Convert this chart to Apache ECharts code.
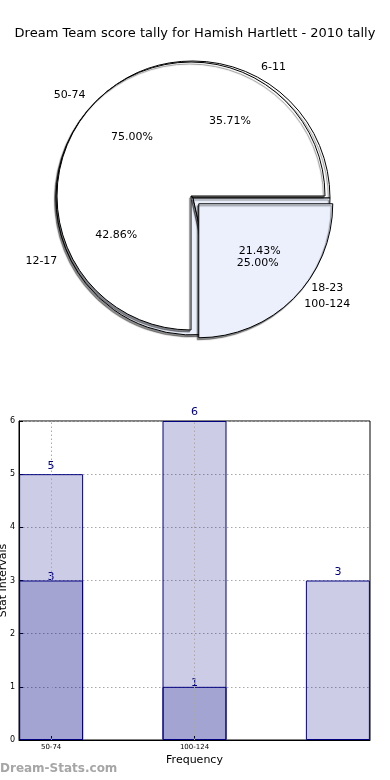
<!DOCTYPE html>
<html><head><meta charset="utf-8">
<script src="https://cdn.jsdelivr.net/npm/echarts@6/dist/echarts.min.js"></script>
<style>html,body{margin:0;padding:0;background:#fff}#c{width:390px;height:780px}</style>
</head><body><div id="c"></div>
<script>
const titleText = 'Dream Team score tally for Hamish Hartlett - 2010 tally';
const pieBackNames = ['6-11', '12-17', '18-23'];
const pieBackValues = [5, 6, 3];
const pieFrontNames = ['50-74', '100-124'];
const pieFrontValues = [3, 1];
const barPositions = [0, 1, 2];
const barTickLabels = ['50-74', '100-124'];
const barTotals = [5, 6, 3];
const barSubset = [3, 1];
const watermark = 'Dream-Stats.com';

const WHITE = '#ffffff', LBLUE = '#ebf0fc', NAVY = '#000080';
const backColors = [WHITE, LBLUE, LBLUE];
const frontColors = [WHITE, LBLUE];

const shadow = {shadowColor: 'rgba(0,0,0,0.45)', shadowBlur: 1, shadowOffsetX: -1.5, shadowOffsetY: 2};

function pieData(names, values, colors, explodeName) {
  return names.map((n, i) => ({
    name: n, value: values[i], selected: n === explodeName,
    itemStyle: {color: colors[i]}
  }));
}
function pctData(names, values, explodeName) {
  return names.map((n, i) => ({name: n, value: values[i], selected: n === explodeName}));
}

const chart = echarts.init(document.getElementById('c'));
const R1 = 137, R2 = 134;
const pieCommon = {
  type: 'pie', startAngle: 0, clockwise: false, selectedMode: 'multiple',
  avoidLabelOverlap: false, animation: false, silent: true, emphasis: {disabled: true},
  labelLayout: {hideOverlap: false}
};
const gridDots = {type: [1.5, 2.5], color: '#a8a8a8', width: 1};
chart.setOption({
  textStyle: {fontFamily: 'DejaVu Sans'},
  animation: false,
  title: {text: titleText, left: 'center', top: 22,
    textStyle: {fontSize: 13, fontWeight: 'normal', color: '#000', fontFamily: 'DejaVu Sans'}},
  graphic: [{type: 'text', left: 0, top: 763,
    style: {text: watermark, font: 'bold 12px "DejaVu Sans"', fill: '#a6a6a6'}}],
  grid: {left: 19, right: 20, top: 421, bottom: 40, show: true, borderColor: '#000', borderWidth: 1,
    outerBoundsMode: 'none', containLabel: false},
  xAxis: {
    type: 'value', min: -0.224, max: 2.224,
    axisLine: {show: true, onZero: false, lineStyle: {color: '#000'}},
    axisTick: {show: true, inside: true, length: 4, customValues: [0, 1], lineStyle: {color: '#000'}},
    axisLabel: {customValues: [0, 1], formatter: v => barTickLabels[Math.round(v)], fontSize: 7, color: '#000', margin: 4},
    splitLine: {show: false},
    name: 'Frequency', nameLocation: 'middle', nameGap: 15, nameMoveOverlap: false,
    nameTextStyle: {fontSize: 11, color: '#000'}
  },
  yAxis: {
    type: 'value', min: 0, max: 6, interval: 1,
    axisLine: {show: true, onZero: false, lineStyle: {color: '#000'}},
    axisTick: {show: true, inside: true, length: 4, lineStyle: {color: '#000'}},
    axisLabel: {fontSize: 8, color: '#000', margin: 4},
    splitLine: {show: true, lineStyle: gridDots},
    name: 'Stat Intervals', nameLocation: 'middle', nameGap: 10, nameMoveOverlap: false,
    nameTextStyle: {fontSize: 11, color: '#000'}
  },
  series: [
    Object.assign({}, pieCommon, {
      center: [193, 198], radius: R1, selectedOffset: 10, z: 1,
      data: pieData(pieBackNames, pieBackValues, backColors, null),
      itemStyle: Object.assign({borderColor: '#000', borderWidth: 1}, shadow),
      label: {show: true, position: 'outside', formatter: '{b}', fontSize: 11, color: '#000'},
      labelLine: {show: false, length: 8, length2: 0}
    }),
    Object.assign({}, pieCommon, {
      center: [193, 198], radius: [R1 * 0.2, R1], selectedOffset: 10, z: 5,
      data: pctData(pieBackNames, pieBackValues, null),
      itemStyle: {color: 'rgba(0,0,0,0)', borderWidth: 0},
      label: {show: true, position: 'inside', formatter: p => p.percent.toFixed(2) + '%', fontSize: 11, color: '#000'},
      labelLine: {show: false}
    }),
    Object.assign({}, pieCommon, {
      center: [191, 196], radius: R2, selectedOffset: 11, z: 2,
      data: pieData(pieFrontNames, pieFrontValues, frontColors, '100-124'),
      itemStyle: Object.assign({borderColor: '#000', borderWidth: 1}, shadow),
      label: {show: true, position: 'outside', formatter: '{b}', fontSize: 11, color: '#000'},
      labelLine: {show: false, length: 8, length2: 0}
    }),
    Object.assign({}, pieCommon, {
      center: [191, 196], radius: [R2 * 0.2, R2], selectedOffset: 11, z: 6,
      data: pctData(pieFrontNames, pieFrontValues, '100-124'),
      itemStyle: {color: 'rgba(0,0,0,0)', borderWidth: 0},
      label: {show: true, position: 'inside', formatter: p => p.percent.toFixed(2) + '%', fontSize: 11, color: '#000'},
      labelLine: {show: false}
    }),
    {
      type: 'bar', barWidth: 64, barGap: '-100%', silent: true,
      data: barPositions.map((x, i) => [x, barTotals[i]]),
      itemStyle: {color: 'rgba(0,0,128,0.2)', borderColor: NAVY, borderWidth: 1},
      label: {show: true, position: 'top', distance: 3, color: NAVY, fontSize: 11}
    },
    {
      type: 'bar', barWidth: 64, barGap: '-100%', silent: true,
      data: barSubset.map((v, i) => [barPositions[i], v]),
      itemStyle: {color: 'rgba(0,0,128,0.2)', borderColor: NAVY, borderWidth: 1},
      label: {show: true, position: 'top', distance: -2, color: NAVY, fontSize: 11}
    },
    {
      type: 'line', data: [], silent: true, symbol: 'none', z: 1,
      markLine: {
        silent: true, symbol: ['none', 'none'], label: {show: false}, animation: false,
        lineStyle: {type: [1.5, 2.5], color: '#a8a8a8', width: 1},
        emphasis: {disabled: true},
        data: barTickLabels.map((t, i) => ({xAxis: barPositions[i]}))
      }
    }
  ]
});
</script></body></html>
